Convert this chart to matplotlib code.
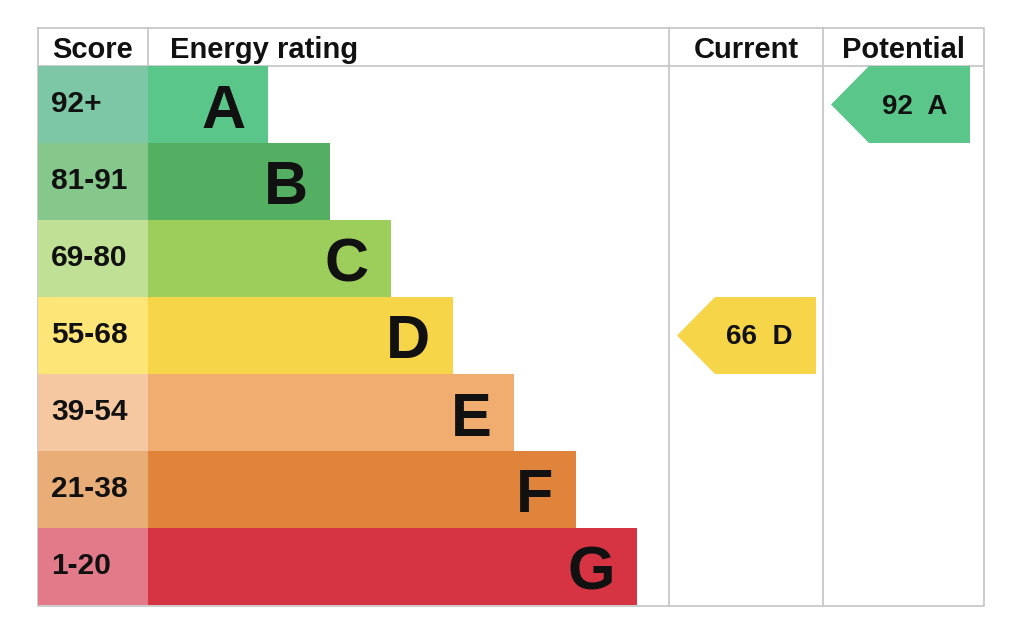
import matplotlib
matplotlib.use("Agg")
import matplotlib.pyplot as plt
from matplotlib.patches import Rectangle, Polygon

# ---- data ----
bands = ["A", "B", "C", "D", "E", "F", "G"]
score_ranges = ["92+", "81-91", "69-80", "55-68", "39-54", "21-38", "1-20"]
band_colors = ["#5bc68a", "#55af62", "#9dcd5b", "#f7d548", "#f0ad6f", "#e0843b", "#d63443"]
score_colors = ["#7dc6a6", "#86c78c", "#bfe095", "#fde577", "#f5c8a1", "#e9ad78", "#e37a8a"]
headers = ["Score", "Energy rating", "Current", "Potential"]
current_score, current_band = 66, "D"
potential_score, potential_band = 92, "A"

plt.rcParams['font.family'] = ['Liberation Sans', 'DejaVu Sans']

fig = plt.figure(figsize=(10.24, 6.39), dpi=100)
ax = fig.add_axes([0, 0, 1, 1])
ax.set_xlim(0, 1024)
ax.set_ylim(639, 0)
ax.axis("off")

# layout (pixels)
left, right, top, bottom = 38, 984, 28, 606
head_bot = 66
row_h = 77
col_score, col_cur, col_pot = 148, 669, 823
bar_w0, bar_step = 120, 61.5
grid = "#c8c8c8"
ink = "#111111"

# rows
for i, (b, sr, bc, sc) in enumerate(zip(bands, score_ranges, band_colors, score_colors)):
    y0 = head_bot + i * row_h
    ax.add_patch(Rectangle((left, y0), col_score - left, row_h, color=sc, lw=0, zorder=2))
    w = bar_w0 + i * bar_step
    ax.add_patch(Rectangle((col_score, y0), w, row_h, color=bc, lw=0, zorder=2))
    ax.text(51, y0 + 46, sr, fontsize=21.5, fontweight="bold", ha="left", va="baseline",
            color=ink, zorder=3)
    ax.text(col_score + w - 22, y0 + 61.5, b, fontsize=44, fontweight="bold", ha="right",
            va="baseline", color=ink, zorder=3)

# grid lines
lw = 1.3
ax.plot([left, right, right, left, left], [top, top, bottom, bottom, top], color=grid, lw=lw, zorder=1)
ax.plot([left, right], [head_bot, head_bot], color=grid, lw=lw, zorder=1)
ax.plot([col_score, col_score], [top, head_bot], color=grid, lw=lw, zorder=1)
for x in (col_cur, col_pot):
    ax.plot([x, x], [top, bottom], color=grid, lw=lw, zorder=1)

# headers
hy = 58
hfs = 21
ax.text((left + col_score) / 2, hy, headers[0], fontsize=hfs, fontweight="bold", ha="center", va="baseline", color=ink)
ax.text(170, hy, headers[1], fontsize=hfs, fontweight="bold", ha="left", va="baseline", color=ink)
ax.text((col_cur + col_pot) / 2, hy, headers[2], fontsize=hfs, fontweight="bold", ha="center", va="baseline", color=ink)
ax.text((col_pot + right) / 2, hy, headers[3], fontsize=hfs, fontweight="bold", ha="center", va="baseline", color=ink)


def arrow(col_x, score, band):
    i = bands.index(band)
    y0 = head_bot + i * row_h
    y1 = y0 + row_h
    tip = col_x + 8
    end = tip + 139
    slant = 38
    poly = Polygon([(tip, (y0 + y1) / 2), (tip + slant, y0), (end, y0), (end, y1), (tip + slant, y1)],
                   closed=True, color=band_colors[i], lw=0, zorder=2)
    ax.add_patch(poly)
    ax.text(end - 23, y0 + 47.5, f"{score}  {band}", fontsize=20, fontweight="bold",
            ha="right", va="baseline", color=ink, zorder=3)


arrow(col_cur, current_score, current_band)
arrow(col_pot, potential_score, potential_band)

fig.savefig("out.png", dpi=100)
